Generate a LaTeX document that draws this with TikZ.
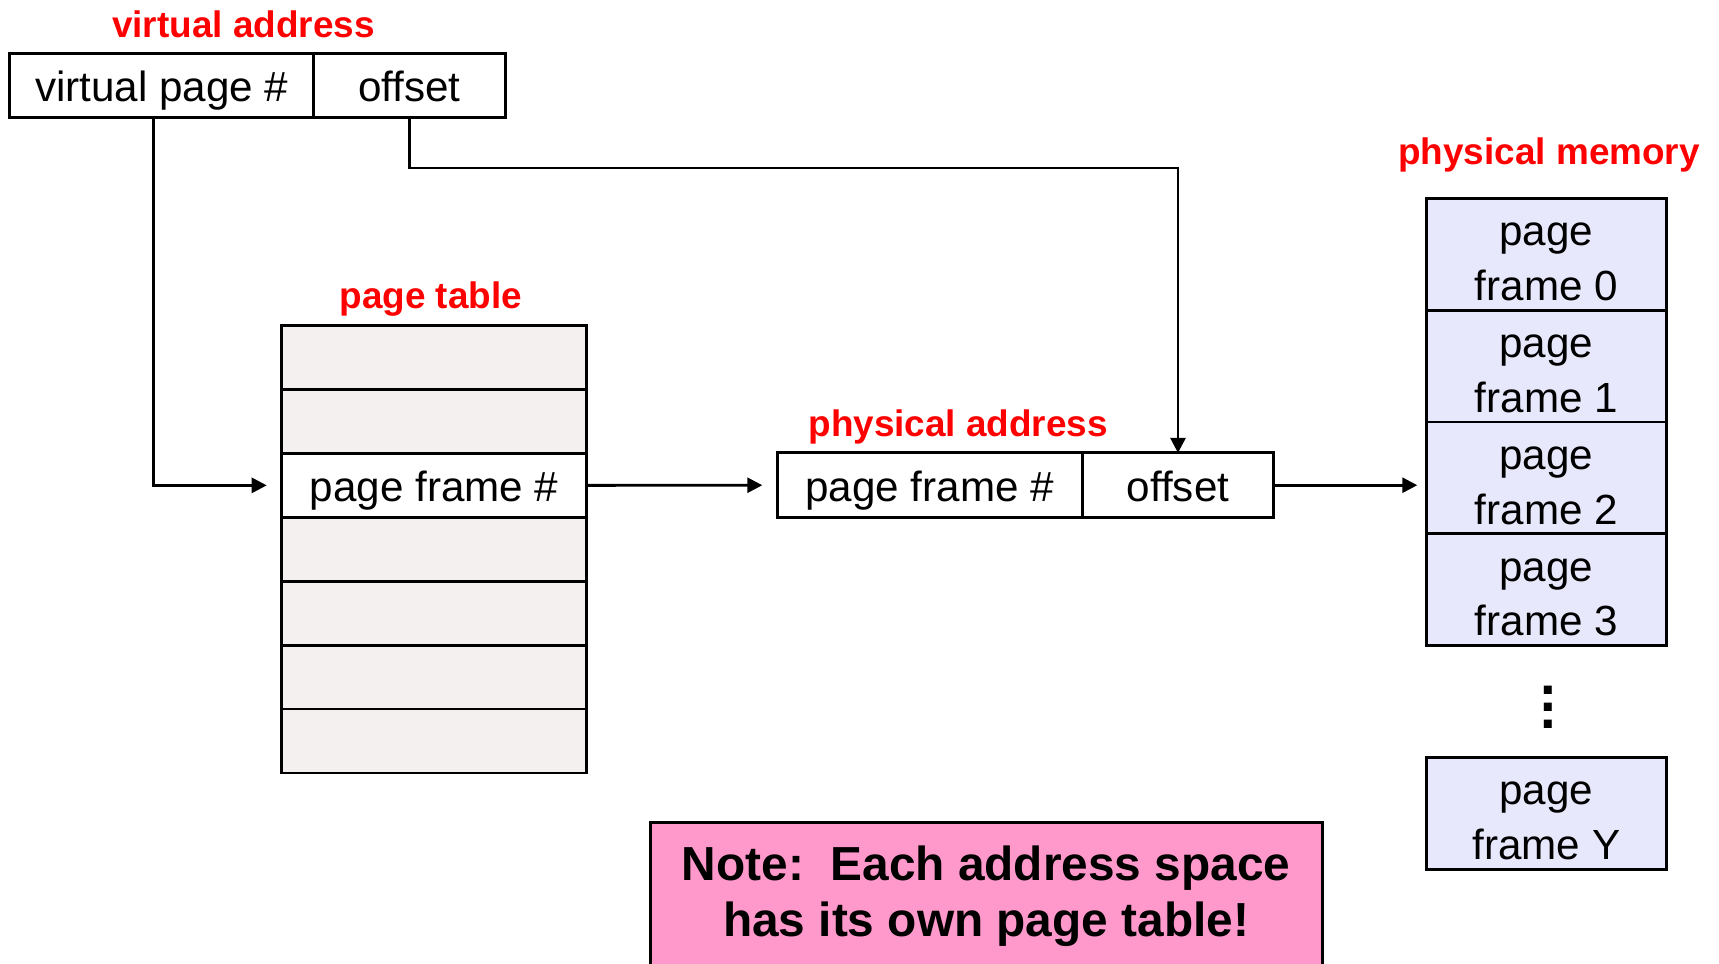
\documentclass[tikz,border=0pt]{standalone}
\usepackage{fontspec}
\setmainfont{Liberation Sans}
\usetikzlibrary{calc,positioning,arrows.meta}

\definecolor{tablegray}{HTML}{F4F0EF}
\definecolor{framelilac}{HTML}{E8E8FC}
\definecolor{notepink}{HTML}{FF99CC}

\newcommand{\pframe}[1]{\rule{0pt}{0.9em}page\\frame #1}

\tikzset{
  field/.style={draw,line width=0.8pt,outer sep=0pt,inner sep=0pt,
    minimum height=0.64cm,text height=10.5pt,text depth=1.2pt,
    font=\fontsize{12}{15.6}\selectfont},
  ptrow/.style={field,fill=tablegray,minimum width=3.048cm,minimum height=0.639cm},
  frame/.style={draw,line width=0.8pt,outer sep=0pt,inner sep=0pt,fill=framelilac,
    minimum width=2.401cm,minimum height=1.118cm,align=center,
    font=\fontsize{12}{15.6}\selectfont},
  title/.style={text=red,font=\fontsize{10.5}{12}\selectfont\bfseries},
  arrow/.style={line width=0.8pt,-{Triangle[length=1.5mm,width=1.5mm]}}
}

\begin{document}
\begin{tikzpicture}
  \useasboundingbox (0,0) rectangle (17.19,-9.63);

  % virtual address
  \node[title] (vatitle) at (2.434,-0.241) {virtual address};
  \node[field,minimum width=3.036cm] (vpn) at (1.617,-0.855) {virtual page \#};
  \node[field,minimum width=1.919cm,right=0pt of vpn] (voff) {offset};

  % page table
  \node[title] (pttitle) at (4.308,-2.99) {page table};
  \foreach \i in {0,1,3,4,5,6}
    \node[ptrow] (pt\i) at (4.341,{-3.256-0.639*(\i+0.5)}) {};
  \node[ptrow,fill=white] (pt2) at (4.341,{-3.256-0.639*2.5}) {page frame \#};

  % physical address
  \node[title] (patitle) at (9.582,-4.273) {physical address};
  \node[field,minimum width=3.048cm,minimum height=0.647cm] (pfn) at (9.297,-4.852) {page frame \#};
  \node[field,minimum width=1.918cm,minimum height=0.647cm,right=0pt of pfn] (poff) {offset};

  % physical memory
  \node[title] (pmtitle) at (15.491,-1.554) {physical memory};
  \foreach \i in {0,...,3}
    \node[frame] (mem\i) at (15.4635,{-1.984-1.118*(\i+0.5)}) {\pframe{\i}};
  \node[font=\fontsize{16}{4.8}\selectfont\bfseries,align=center,inner sep=0pt] (memdots) at (15.48,-7.07) {.\\.\\.};
  \node[frame] (memY) at (15.4635,-8.134) {\pframe{Y}};

  % note
  \node[draw,line width=0.8pt,fill=notepink,minimum width=6.72cm,minimum height=2cm,anchor=north] (notebox) at (9.861,-8.211) {};
  \node[align=center,font=\fontsize{13.6}{16}\selectfont\bfseries] (note) at (9.861,-8.96) {Note:\ \ Each address space\\has its own page table!};

  \draw[arrow,shorten >=0.15cm] ($(vpn.south)+(-0.08,0)$) |- (pt2.west);
  \draw[arrow] (voff.south) -- ++(0,-0.504) -| (poff.north);
  \draw[arrow,shorten >=0.15cm] (pt2.east) -- (pfn.west);
  \draw[arrow,shorten >=0.09cm] (poff.east) -- (poff.east -| mem2.west);
\end{tikzpicture}
\end{document}
